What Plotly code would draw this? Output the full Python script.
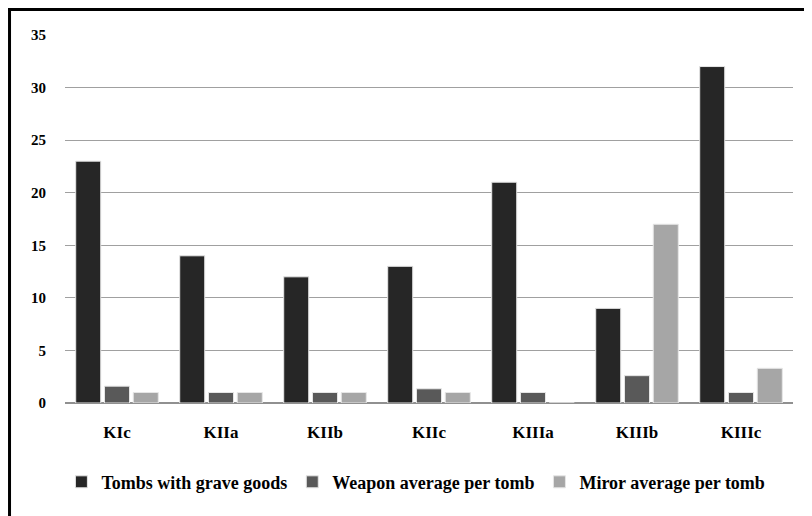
import plotly.graph_objects as go

categories = ["KIc", "KIIa", "KIIb", "KIIc", "KIIIa", "KIIIb", "KIIIc"]
tombs = [23, 14, 12, 13, 21, 9, 32]
weapon = [1.6, 1, 1, 1.35, 1, 2.6, 1]
mirror = [1, 1, 1, 1, 0, 17, 3.3]
y_ticks = [0, 5, 10, 15, 20, 25, 30, 35]

series = [
    ("Tombs with grave goods", tombs, "#262626"),
    ("Weapon average per tomb", weapon, "#595959"),
    ("Miror average per tomb", mirror, "#a6a6a6"),
]

fig = go.Figure()
for name, vals, col in series:
    fig.add_trace(go.Bar(
        x=categories, y=vals, name=name,
        marker=dict(color=col, line=dict(color="#e6e6e6", width=1)),
    ))

FAM = "Liberation Serif, DejaVu Serif, serif"
yfont = dict(family=FAM, size=15, color="black", weight=700)
xfont = dict(family=FAM, size=17, color="black", weight=700)

fig.update_layout(
    width=812, height=516,
    margin=dict(l=57, r=27, t=27, b=121),
    paper_bgcolor="white", plot_bgcolor="white",
    barmode="group", bargap=0.17, bargroupgap=0.13,
    font=yfont,
    showlegend=True,
    legend=dict(orientation="h", x=0.482, xanchor="center", y=-0.215, yanchor="middle",
                font=dict(family=FAM, size=18, color="black", weight=700),
                itemwidth=30, tracegroupgap=0),
    xaxis=dict(showgrid=False, showline=False, zeroline=False, ticks="",
               ticklabelstandoff=17, tickfont=xfont),
    yaxis=dict(range=[0, 35], tickvals=y_ticks, showgrid=True, gridcolor="#a0a0a0",
               gridwidth=1, zeroline=True, zerolinecolor="#909090", zerolinewidth=2,
               showline=False, ticks="", ticklabelstandoff=18, tickfont=yfont),
    shapes=[dict(type="rect", xref="paper", yref="paper",
                 x0=-0.0762, x1=1.2, y0=-0.6, y1=1.0693,
                 line=dict(color="black", width=3), fillcolor="rgba(0,0,0,0)",
                 layer="above")],
)

fig.write_html("out.html")
